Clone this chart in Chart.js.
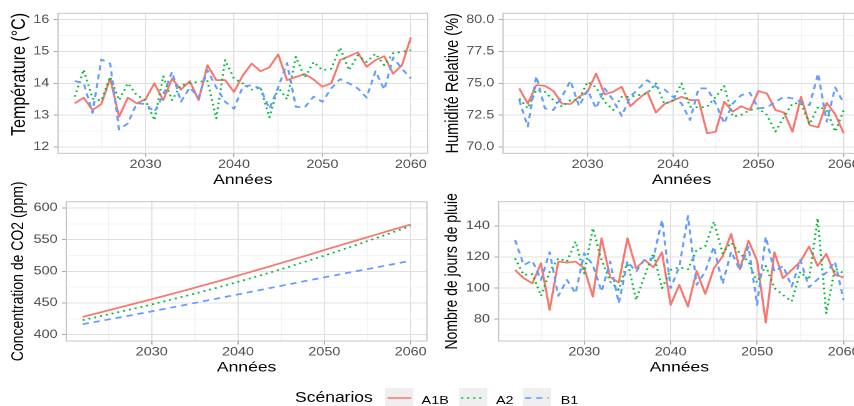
<!DOCTYPE html>
<html>
<head>
<meta charset="utf-8">
<script src="https://cdn.jsdelivr.net/npm/chart.js@4.4.1/dist/chart.umd.min.js"></script>
<style>
  html, body { margin: 0; padding: 0; background: #fff; width: 854px; height: 406px; overflow: hidden; }
  /* the reference is stretched horizontally, so the whole figure is drawn narrow and scaled */
  #fig { position: absolute; left: 0; top: 0; width: 684px; height: 406px;
         transform: scaleX(1.25); transform-origin: 0 0;
         font-family: "Liberation Sans", Arial, sans-serif; }
  .panel { position: absolute; }
  .legend { position: absolute; top: 388px; left: 0; width: 684px; height: 18px; }
  .legend span { position: absolute; top: 1px; line-height: 18px; color: #000; }
  .legend .title { font-size: 14px; top: 0; }
  .legend .lab { font-size: 11.5px; top: 3px; }
  .legend svg { position: absolute; top: 0; }
</style>
</head>
<body>
<div id="fig">
  <div class="panel" style="left:0;top:0;width:345px;height:190px"><canvas id="tl"></canvas></div>
  <div class="panel" style="left:350px;top:0;width:340px;height:190px"><canvas id="tr"></canvas></div>
  <div class="panel" style="left:0;top:178px;width:345px;height:202px"><canvas id="bl"></canvas></div>
  <div class="panel" style="left:350px;top:178px;width:340px;height:202px"><canvas id="br"></canvas></div>
  <div class="legend" id="legend"></div>
</div>
<script>
  /* ---------- data ---------- */
  const YEARS = [2022, 2023, 2024, 2025, 2026, 2027, 2028, 2029, 2030, 2031, 2032, 2033, 2034,
    2035, 2036, 2037, 2038, 2039, 2040, 2041, 2042, 2043, 2044, 2045, 2046, 2047, 2048, 2049,
    2050, 2051, 2052, 2053, 2054, 2055, 2056, 2057, 2058, 2059, 2060];
  const SCENARIOS = ["A1B", "A2", "B1"];

  const TEMP_A1B = [13.37, 13.55, 13.16, 13.35, 14.15, 12.95, 13.55, 13.37, 13.5, 14.0, 13.47, 14.15, 13.8,
    14.07, 13.47, 14.57, 14.1, 14.1, 13.73, 14.25, 14.62, 14.38, 14.5, 14.91, 14.1, 14.2, 14.29, 14.12,
    13.89, 14.0, 14.73, 14.85, 14.97, 14.52, 14.73, 14.85, 14.3, 14.57, 15.44];
  const TEMP_A2 = [13.58, 14.43, 13.52, 13.45, 14.2, 13.47, 14.0, 13.63, 13.47, 12.84, 14.22, 13.47, 13.94,
    14.0, 14.05, 14.07, 12.9, 14.73, 14.15, 14.0, 13.8, 13.87, 12.93, 13.87, 13.5, 14.83, 14.18, 14.67,
    14.41, 14.46, 15.12, 14.41, 14.88, 14.67, 14.93, 14.57, 14.95, 14.99, 15.04];
  const TEMP_B1 = [14.07, 14.01, 13.07, 14.75, 14.62, 12.55, 12.74, 13.37, 13.35, 13.1, 13.63, 14.36, 13.42,
    13.87, 13.55, 14.41, 13.87, 13.42, 13.2, 13.9, 13.94, 13.84, 13.2, 13.87, 14.64, 13.26, 13.24, 13.58,
    13.42, 13.84, 14.13, 14.0, 13.84, 13.55, 14.38, 13.8, 14.81, 14.46, 14.15];

  const HUM_A1B = [74.6, 73.4, 74.86, 74.8, 74.4, 73.4, 73.37, 73.94, 74.33, 75.77, 74.13, 74.33, 74.73,
    73.2, 73.8, 74.33, 72.7, 73.37, 73.63, 73.94, 73.68, 73.68, 71.07, 71.2, 73.55, 72.77, 73.2, 72.9,
    74.39, 74.2, 72.9, 72.7, 71.2, 73.94, 71.72, 71.54, 73.47, 72.56, 71.07];
  const HUM_A2 = [73.8, 73.03, 74.5, 74.33, 73.68, 73.16, 73.68, 73.73, 75.12, 74.67, 73.55, 72.9, 73.94,
    73.94, 74.07, 74.2, 74.99, 73.37, 73.68, 74.99, 73.16, 73.1, 73.16, 73.94, 74.78, 72.38, 72.51, 72.9,
    73.03, 72.51, 71.2, 72.38, 73.42, 73.42, 71.8, 73.16, 72.9, 71.2, 72.9];
  const HUM_B1 = [73.68, 71.6, 75.56, 73.03, 72.9, 73.94, 75.2, 73.2, 74.46, 73.03, 74.6, 73.68, 72.43,
    73.94, 74.6, 75.25, 74.73, 74.52, 73.94, 73.42, 72.11, 74.6, 74.6, 73.42, 71.85, 73.42, 74.07, 74.26,
    73.03, 73.1, 73.55, 73.94, 73.81, 73.55, 73.29, 75.77, 71.98, 74.67, 73.42];

  const CO2_A1B = [428, 431.5, 435, 438.5, 442, 445.5, 449, 452.5, 456, 459.6, 463.2, 466.8, 470.5,
    474.2, 477.9, 481.7, 485.5, 489.4, 493.3, 497.2, 501.2, 505.2, 509.2, 513.2, 517.2, 521.3, 525.4,
    529.5, 533.6, 537.7, 541.8, 545.9, 550, 554, 558, 562, 566, 570, 574];
  const CO2_A2 = [423, 426, 429, 432, 435.1, 438.2, 441.3, 444.5, 447.7, 451.1, 454.5, 457.9, 461.4,
    464.9, 468.5, 472.1, 475.8, 479.6, 483.4, 487.3, 491.2, 495.2, 499.3, 503.4, 507.6, 511.8, 516.1,
    520.5, 524.9, 529.4, 533.9, 538.5, 543.1, 547.8, 552.5, 557.2, 562, 566.8, 571.6];
  const CO2_B1 = [416.5, 419, 421.5, 424, 426.5, 429, 431.6, 434.2, 436.8, 439.4, 442, 444.7, 447.4,
    450.1, 452.8, 455.5, 458.2, 460.9, 463.6, 466.3, 469, 471.7, 474.4, 477.1, 479.8, 482.5, 485.2,
    487.9, 490.6, 493.2, 495.8, 498.4, 501, 503.6, 506.2, 508.8, 511.4, 514, 516.6];

  const RAIN_A1B = [111.7, 106.4, 103.1, 116, 86, 117.1, 116.4, 117.1, 112.8, 94.6, 132.1, 107, 103.6,
    132.1, 112.8, 118.1, 113.4, 123.1, 89.2, 102.1, 88.1, 111.1, 96.3, 112.8, 120.3, 134.9, 112.1, 130.6,
    117.7, 77.9, 123.1, 106.4, 111.7, 117.1, 126.7, 114.3, 122, 108.5, 107];
  const RAIN_A2 = [119.2, 108.5, 109.1, 95, 110.6, 119.2, 117.1, 129.9, 109.6, 138.5, 118.1, 104.2, 98.9,
    117.1, 92.4, 108, 122.4, 100, 111.7, 113.4, 112.1, 124.6, 126.7, 142.8, 122.4, 129.3, 122.4, 117.1,
    103.6, 114.3, 100, 95.6, 91.4, 110.6, 105.3, 144.9, 83.9, 112.8, 109.6];
  const RAIN_B1 = [131, 114.9, 117.7, 105.3, 123.1, 95, 105.3, 96.7, 122.4, 114.9, 97.8, 117.1, 90.3,
    117.1, 110.6, 118.6, 119.2, 143.9, 100, 113.9, 146.4, 102.1, 110.6, 126.7, 102.7, 123.5, 111.7, 126.7,
    89.2, 133.1, 110.6, 114.3, 101, 118.1, 100.6, 105.7, 110, 117.1, 92.4];

  const X_MAJOR = [2030, 2040, 2050, 2060];
  const X_MINOR = [2025, 2035, 2045, 2055];
  const TEMP_MAJOR = [12, 13, 14, 15, 16];
  const TEMP_MINOR = [12.5, 13.5, 14.5, 15.5];
  const HUM_MAJOR = [70, 72.5, 75, 77.5, 80];
  const HUM_MINOR = [71.25, 73.75, 76.25, 78.75];
  const CO2_MAJOR = [400, 450, 500, 550, 600];
  const CO2_MINOR = [425, 475, 525, 575];
  const RAIN_MAJOR = [80, 100, 120, 140];
  const RAIN_MINOR = [70, 90, 110, 130, 150];

  /* ---------- style ---------- */
  const COLORS = ["#F8766D", "#00BA38", "#619CFF"];
  const DASHES = [[], [1.6, 3.2], [5, 4]];
  const GRID = "#e0e0e0";
  const GRID_MINOR = "#f0f0f0";
  const BORDER = "#c6c6c6";
  const TICK = "#a8a8a8";
  const TEXT = "#4d4d4d";
  const FONT = "'Liberation Sans', Arial, sans-serif";

  const panelBorder = {
    id: "panelBorder",
    afterDraw(chart) {
      const { ctx, chartArea: a } = chart;
      ctx.save();
      ctx.strokeStyle = BORDER;
      ctx.lineWidth = 1;
      ctx.strokeRect(a.left, a.top, a.right - a.left, a.bottom - a.top);
      ctx.restore();
    },
  };

  function makePanel(id, p) {
    const isMajorY = (v) => p.yMajor.includes(v);
    const isMajorX = (v) => X_MAJOR.includes(v);
    const datasets = p.series.map((vals, i) => ({
      label: SCENARIOS[i],
      data: YEARS.map((x, j) => ({ x, y: vals[j] })),
      borderColor: COLORS[i],
      borderDash: DASHES[i],
      borderWidth: 1.7,
      borderJoinStyle: "round",
      pointRadius: 0,
      tension: 0,
      fill: false,
      order: 2 - i,
    }));
    return new Chart(document.getElementById(id), {
      type: "line",
      data: { datasets },
      plugins: [panelBorder],
      options: {
        responsive: true,
        maintainAspectRatio: false,
        animation: false,
        devicePixelRatio: 2,
        layout: { padding: { top: p.padTop, right: p.padRight, left: 0, bottom: 0 } },
        plugins: { legend: { display: false }, tooltip: { enabled: false } },
        scales: {
          x: {
            type: "linear",
            min: 2020.1,
            max: 2061.9,
            afterBuildTicks: (s) => {
              s.ticks = X_MINOR.concat(X_MAJOR).sort((a, b) => a - b).map((v) => ({ value: v }));
            },
            afterFit: (s) => { s.height = p.xAxisH; s.paddingLeft = 0; s.paddingRight = 0; },
            border: { display: false },
            grid: {
              color: (c) => (isMajorX(c.tick.value) ? GRID : GRID_MINOR),
              lineWidth: (c) => (isMajorX(c.tick.value) ? 1 : 0.7),
              tickLength: 3.5,
              tickColor: (c) => (isMajorX(c.tick.value) ? TICK : "rgba(0,0,0,0)"),
            },
            ticks: {
              autoSkip: false, maxRotation: 0, padding: 1, color: TEXT,
              font: { family: FONT, size: 11.5 },
              callback: (v) => (isMajorX(v) ? String(v) : ""),
            },
            title: {
              display: true, text: "Années", color: "#000",
              font: { family: FONT, size: 14 },
              padding: { top: 0, bottom: p.xTitlePad },
            },
          },
          y: {
            type: "linear",
            min: p.yMin,
            max: p.yMax,
            afterBuildTicks: (s) => {
              s.ticks = p.yMinor.concat(p.yMajor).sort((a, b) => a - b).map((v) => ({ value: v }));
            },
            afterFit: (s) => { s.width = p.yAxisW; s.paddingTop = 0; s.paddingBottom = 0; },
            border: { display: false },
            grid: {
              color: (c) => (isMajorY(c.tick.value) ? GRID : GRID_MINOR),
              lineWidth: (c) => (isMajorY(c.tick.value) ? 1 : 0.7),
              tickLength: 3.5,
              tickColor: (c) => (isMajorY(c.tick.value) ? TICK : "rgba(0,0,0,0)"),
            },
            ticks: {
              autoSkip: false, padding: 3.5, color: TEXT,
              font: { family: FONT, size: 11.5 },
              callback: (v) => (isMajorY(v) ? p.yFmt(v) : ""),
            },
            title: {
              display: true, text: p.yTitle, color: "#000",
              font: { family: FONT, size: p.yTitleSize },
              padding: { top: p.yTitlePad, bottom: 0 },
            },
          },
        },
      },
    });
  }

  // leading no-break spaces nudge the rotated title up, as in the reference
  makePanel("tl", {
    yTitle: "\u00a0\u00a0\u00a0\u00a0Température (°C)", yTitleSize: 16,
    yMin: 11.8, yMax: 16.2, yMajor: TEMP_MAJOR, yMinor: TEMP_MINOR,
    yFmt: (v) => String(v), series: [TEMP_A1B, TEMP_A2, TEMP_B1],
    yAxisW: 46.4, padRight: 2.9, padTop: 13.3, xAxisH: 36.7, yTitlePad: 6.1, xTitlePad: 1.6,
  });
  makePanel("tr", {
    yTitle: "Humidité Relative (%)", yTitleSize: 14.5,
    yMin: 69.5, yMax: 80.5, yMajor: HUM_MAJOR, yMinor: HUM_MINOR,
    yFmt: (v) => v.toFixed(1), series: [HUM_A1B, HUM_A2, HUM_B1],
    yAxisW: 52.4, padRight: 2, padTop: 13.3, xAxisH: 36.7, yTitlePad: 3.7, xTitlePad: 1.6,
  });
  makePanel("bl", {
    yTitle: "Concentration de CO2 (ppm)", yTitleSize: 14,
    yMin: 390, yMax: 610, yMajor: CO2_MAJOR, yMinor: CO2_MINOR,
    yFmt: (v) => String(v), series: [CO2_A1B, CO2_A2, CO2_B1],
    yAxisW: 53, padRight: 3.4, padTop: 23.7, xAxisH: 39, yTitlePad: 6.2, xTitlePad: 4.1,
  });
  makePanel("br", {
    yTitle: "Nombre de jours de pluie", yTitleSize: 14,
    yMin: 66, yMax: 155.6, yMajor: RAIN_MAJOR, yMinor: RAIN_MINOR,
    yFmt: (v) => String(v), series: [RAIN_A1B, RAIN_A2, RAIN_B1],
    yAxisW: 48.9, padRight: 2, padTop: 23.7, xAxisH: 39, yTitlePad: 3.2, xTitlePad: 4.1,
  });

  /* ---------- legend (html) ---------- */
  const legend = document.getElementById("legend");
  const KEY_X = [308, 366.7, 418.1];
  const LAB_X = [337.3, 396.8, 448.6];
  let html = '<span class="title" style="left:236px">Scénarios</span>';
  SCENARIOS.forEach((s, i) => {
    html += '<svg width="23" height="18" style="left:' + KEY_X[i] + 'px">' +
      '<rect width="23" height="18" fill="#efefef"/>' +
      '<line x1="2" y1="10" x2="21" y2="10" stroke="' + COLORS[i] + '" stroke-width="1.7"' +
      (DASHES[i].length ? ' stroke-dasharray="' + DASHES[i].join(",") + '"' : "") + '/></svg>';
    html += '<span class="lab" style="left:' + LAB_X[i] + 'px">' + s + '</span>';
  });
  legend.innerHTML = html;
</script>
</body>
</html>
